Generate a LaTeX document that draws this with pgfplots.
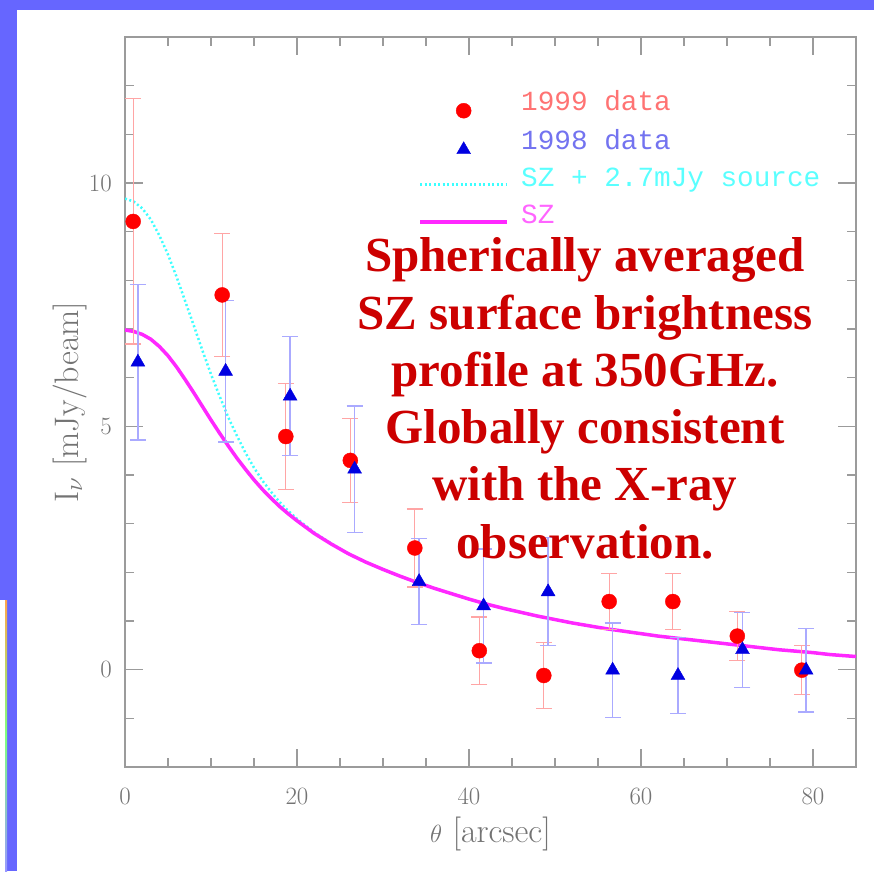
\documentclass[border=0pt]{standalone}
\usepackage{pgfplots}
\usepackage{pgfplotstable}
\pgfplotsset{compat=1.18}
\usepackage{fontspec}
\newfontfamily\legfont{Liberation Mono}
\newfontfamily\annfont{Liberation Serif}
\definecolor{bgblue}{RGB}{102,102,255}
\definecolor{ptred}{RGB}{255,0,0}
\definecolor{ptblue}{RGB}{0,0,225}
\definecolor{errred}{RGB}{255,165,165}
\definecolor{errblue}{RGB}{170,170,255}
\definecolor{szmag}{RGB}{255,40,255}
\definecolor{szcyan}{RGB}{60,255,255}
\definecolor{txtred}{RGB}{255,115,115}
\definecolor{txtblue}{RGB}{115,115,240}
\definecolor{txtcyan}{RGB}{90,255,255}
\definecolor{txtmag}{RGB}{255,100,255}
\definecolor{anncol}{RGB}{204,0,0}
\definecolor{axgray}{RGB}{155,155,155}
\definecolor{labgray}{RGB}{115,115,115}

\pgfplotsset{
  markleg/.style={legend image code/.code={\draw[mark repeat=2,mark phase=2,##1] plot coordinates {(0pt,-7pt) (43.5pt,-7pt) (87pt,-7pt)};}},
  lineleg/.style={legend image code/.code={\draw[##1] (0pt,-5pt) -- (87pt,-5pt);}},
}

\pgfplotstableread{
x y ey
0.95 9.21 2.52
11.3 7.70 1.26
18.7 4.79 1.09
26.2 4.30 0.86
33.7 2.50 0.80
41.2 0.39 0.69
48.7 -0.12 0.68
56.3 1.40 0.58
63.7 1.40 0.58
71.2 0.69 0.50
78.7 -0.01 0.50
}\reddata

\pgfplotstableread{
x y ey
1.5 6.32 1.60
11.7 6.13 1.45
19.2 5.62 1.22
26.7 4.12 1.30
34.2 1.81 0.88
41.7 1.31 1.17
49.2 1.60 1.11
56.7 -0.01 0.97
64.3 -0.12 0.78
71.8 0.41 0.77
79.2 -0.01 0.86
}\bluedata

\pgfplotstableread{
x y
0 9.68
1 9.62
2 9.48
3 9.25
4 8.92
5 8.53
6 8.07
7 7.57
8 7.07
9 6.56
10 6.07
11 5.62
12 5.19
13 4.81
14 4.46
15 4.15
16 3.88
17 3.65
18 3.44
19 3.26
20 3.10
22 2.82
24 2.59
26 2.38
28 2.21
30 2.06
32 1.92
34 1.79
36 1.67
38 1.56
40 1.45
42 1.35
44 1.26
46 1.18
48 1.10
50 1.03
52 0.96
54 0.90
56 0.84
58 0.79
60 0.74
62 0.69
64 0.65
66 0.61
68 0.57
70 0.53
72 0.49
74 0.45
76 0.41
78 0.38
80 0.35
82 0.31
85 0.27
}\cyandata

\pgfplotstableread{
x y
0 6.98
1 6.95
2 6.89
3 6.79
4 6.64
5 6.45
6 6.22
7 5.96
8 5.69
9 5.41
10 5.13
11 4.86
12 4.60
13 4.35
14 4.12
15 3.90
16 3.70
17 3.52
18 3.35
19 3.20
20 3.06
22 2.80
24 2.58
26 2.38
28 2.21
30 2.06
32 1.92
34 1.79
36 1.67
38 1.56
40 1.45
42 1.35
44 1.26
46 1.18
48 1.10
50 1.03
52 0.96
54 0.90
56 0.84
58 0.79
60 0.74
62 0.69
64 0.65
66 0.61
68 0.57
70 0.53
72 0.49
74 0.45
76 0.41
78 0.38
80 0.35
82 0.31
85 0.27
}\magdata

\begin{document}
\begin{tikzpicture}
\useasboundingbox (0pt,0pt) rectangle (874pt,871pt);
\fill[bgblue] (0pt,0pt) rectangle (874pt,871pt);
\fill[white] (17pt,0pt) rectangle (874pt,861pt);
\fill[white] (0pt,0pt) rectangle (6pt,271pt);
\shade[top color=orange!70, bottom color=blue!40, middle color=green!50] (5pt,0pt) rectangle (7pt,271pt);
\begin{axis}[
  at={(125pt,104pt)}, anchor=south west, scale only axis,
  width=731pt, height=730pt,
  xmin=0, xmax=85, ymin=-2, ymax=13,
  xtick={0,20,...,80}, ytick={0,5,10},
  minor xtick={0,5,...,85}, minor ytick={-2,-1,...,13},
  major tick length=18pt, minor tick length=9pt,
  tick align=inside,
  tick style={axgray, line width=1.3pt},
  minor tick style={axgray, line width=1.3pt},
  axis line style={axgray, line width=2pt},
  every tick label/.append style={font=\fontsize{28}{34}\selectfont, text=labgray},
  yticklabel style={inner sep=0pt, xshift=-13pt},
  xticklabel style={inner sep=0pt, yshift=-21pt},
  xlabel={$\theta$ [arcsec]},
  ylabel={$\mathrm{I}_\nu$ [mJy/beam]},
  every axis x label/.style={at={(axis description cs:0.5,-0.0685)}, anchor=north,
    font=\fontsize{34}{40}\selectfont, text=labgray, inner sep=0pt},
  every axis y label/.style={at={(axis description cs:-0.052,0.5)}, anchor=south, rotate=90,
    font=\fontsize{34}{40}\selectfont, text=labgray, inner sep=0pt},
  legend style={at={(rel axis cs:0.4008,0.926)}, anchor=north west, draw=none, fill=none,
    inner sep=0pt, font=\fontsize{27.7}{30}\legfont,
    nodes={inner sep=0pt, text height=19pt, text depth=6pt},
    row sep=12pt, /tikz/every odd column/.append style={column sep=12pt}},
  legend cell align=left,
]
\addlegendimage{only marks, mark=*, mark size=7.5pt, color=ptred, markleg}
\addlegendentry{\textcolor{txtred}{1999 data}}
\addlegendimage{only marks, mark=triangle*, mark size=8pt, color=ptblue, markleg}
\addlegendentry{\textcolor{txtblue}{1998 data}}
\addlegendimage{szcyan, line width=2.5pt, dash pattern=on 2pt off 2.5pt, lineleg}
\addlegendentry{\textcolor{txtcyan}{SZ + 2.7mJy source}}
\addlegendimage{szmag, line width=4pt, lineleg}
\addlegendentry{\textcolor{txtmag}{SZ}}

\addplot[szcyan, line width=2.5pt, dash pattern=on 2pt off 2.5pt, forget plot] table[x=x,y=y] {\cyandata};
\addplot[szmag, line width=3.5pt, forget plot] table[x=x,y=y] {\magdata};
\addplot[only marks, mark=*, mark size=7.5pt, color=ptred, forget plot,
  error bars/.cd, y dir=both, y explicit,
  error bar style={errred, line width=1.3pt},
  error mark options={errred, rotate=90, mark size=8pt, line width=1.3pt}]
  table[x=x, y=y, y error=ey] {\reddata};
\addplot[only marks, mark=triangle*, mark size=8pt, color=ptblue, forget plot,
  error bars/.cd, y dir=both, y explicit,
  error bar style={errblue, line width=1.3pt},
  error mark options={errblue, rotate=90, mark size=8pt, line width=1.3pt}]
  table[x=x, y=y, y error=ey] {\bluedata};
\end{axis}
\begin{scope}[every node/.style={anchor=base, inner sep=0pt, text=anncol, font=\fontsize{49}{57}\annfont\bfseries}]
\node at (585pt,599pt) {Spherically averaged};
\node at (585pt,541.8pt) {SZ surface brightness};
\node at (585pt,484.6pt) {profile at 350GHz.};
\node at (585pt,427.4pt) {Globally consistent};
\node at (585pt,370.2pt) {with the X-ray};
\node at (585pt,313pt) {observation.};
\end{scope}
\end{tikzpicture}
\end{document}
